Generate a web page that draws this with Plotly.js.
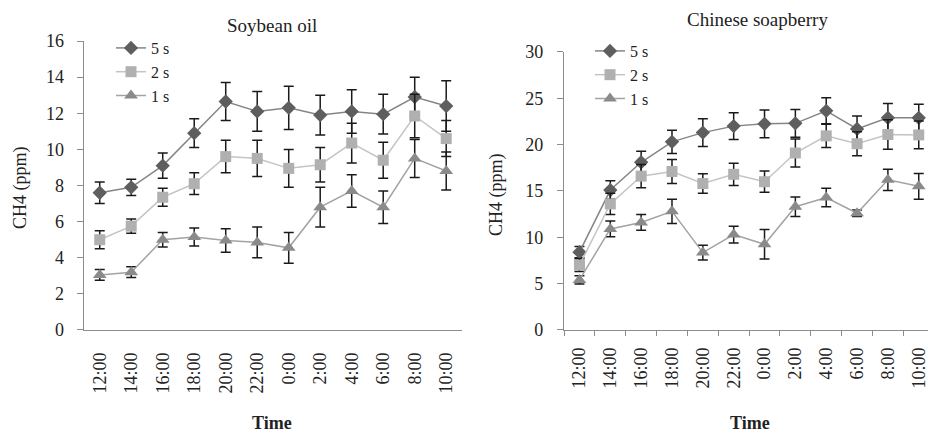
<!DOCTYPE html>
<html>
<head>
<meta charset="utf-8">
<script src="https://cdn.plot.ly/plotly-3.0.1.min.js"></script>
<style>html,body{margin:0;padding:0;background:#fff;}#chart{width:928px;height:435px;}</style>
</head>
<body>
<div id="chart"></div>
<script>
var times = ['12:00','14:00','16:00','18:00','20:00','22:00','0:00','2:00','4:00','6:00','8:00','10:00'];
var seriesNames = ['5 s', '2 s', '1 s'];

// Soybean oil (CH4, ppm)
var soy5 = [7.6, 7.9, 9.1, 10.9, 12.65, 12.1, 12.3, 11.9, 12.1, 11.95, 12.9, 12.4];
var soy5Err = [0.6, 0.45, 0.7, 0.8, 1.05, 1.1, 1.2, 1.1, 1.2, 1.1, 1.1, 1.4];
var soy2 = [5.0, 5.75, 7.35, 8.1, 9.6, 9.5, 8.95, 9.15, 10.35, 9.4, 11.85, 10.6];
var soy2Err = [0.5, 0.4, 0.5, 0.6, 0.9, 1.0, 1.05, 0.95, 1.1, 1.0, 1.2, 1.0];
var soy1 = [3.05, 3.2, 5.0, 5.15, 4.95, 4.85, 4.55, 6.8, 7.7, 6.8, 9.5, 8.8];
var soy1Err = [0.3, 0.3, 0.4, 0.5, 0.65, 0.85, 0.85, 1.1, 0.9, 0.9, 1.05, 1.05];

// Chinese soapberry (CH4, ppm)
var soap5 = [8.4, 15.1, 18.1, 20.3, 21.3, 22.0, 22.25, 22.3, 23.65, 21.7, 22.9, 22.9];
var soap5Err = [0.6, 1.0, 1.2, 1.25, 1.5, 1.45, 1.5, 1.5, 1.4, 1.4, 1.55, 1.45];
var soap2 = [7.0, 13.6, 16.6, 17.1, 15.8, 16.8, 16.0, 19.1, 20.95, 20.1, 21.1, 21.05];
var soap2Err = [0.7, 1.15, 1.25, 1.3, 1.05, 1.2, 1.15, 1.5, 1.25, 1.3, 1.6, 1.5];
var soap1 = [5.4, 10.9, 11.6, 12.8, 8.35, 10.3, 9.25, 13.3, 14.3, 12.6, 16.2, 15.5];
var soap1Err = [0.45, 0.85, 0.85, 1.3, 0.8, 0.9, 1.6, 1.05, 1.0, 0.35, 1.15, 1.4];

var FONT = "'Liberation Serif', 'Times New Roman', serif";
var styles = [
  {line: '#858585', marker: '#5e5e5e', symbol: 'diamond', size: 11},
  {line: '#c4c4c4', marker: '#b0b0b0', symbol: 'square', size: 11},
  {line: '#a3a3a3', marker: '#8a8a8a', symbol: 'triangle-up', size: 12}
];

function mk(y, err, i, xa, ya, leg) {
  var s = styles[i];
  return {
    x: times, y: y, name: seriesNames[i], xaxis: xa, yaxis: ya, legend: leg,
    type: 'scatter', mode: 'lines+markers', cliponaxis: false,
    line: {color: s.line, width: 1.5},
    marker: {color: s.marker, symbol: s.symbol, size: s.size},
    error_y: {type: 'data', array: err, visible: true, color: '#1a1a1a', thickness: 1.5, width: 5}
  };
}

var data = [
  mk(soy5, soy5Err, 0, 'x', 'y', 'legend'),
  mk(soy2, soy2Err, 1, 'x', 'y', 'legend'),
  mk(soy1, soy1Err, 2, 'x', 'y', 'legend'),
  mk(soap5, soap5Err, 0, 'x2', 'y2', 'legend2'),
  mk(soap2, soap2Err, 1, 'x2', 'y2', 'legend2'),
  mk(soap1, soap1Err, 2, 'x2', 'y2', 'legend2')
];

var axCol = '#8c8c8c';
var tickFont = {family: FONT, size: 18, color: '#222'};

var layout = {
  width: 928, height: 435,
  margin: {l: 0, r: 0, t: 0, b: 0},
  paper_bgcolor: '#fff', plot_bgcolor: '#fff',
  font: {family: FONT, size: 18, color: '#222'},
  showlegend: true,
  xaxis: {
    domain: [0.0905, 0.4978], anchor: 'y', type: 'category', range: [-0.5, 11.5],
    showline: true, linecolor: axCol, linewidth: 1.3, ticks: '', showgrid: false, zeroline: false,
    tickangle: -90, tickfont: tickFont, ticklabelstandoff: 14
  },
  yaxis: {
    domain: [0.2414, 0.9057], anchor: 'x', range: [0, 16], dtick: 2,
    showline: true, linecolor: axCol, linewidth: 1.3, ticks: 'outside', ticklen: 6, tickcolor: axCol,
    showgrid: false, zeroline: false, tickfont: tickFont, ticklabelstandoff: 9
  },
  xaxis2: {
    domain: [0.6078, 1], anchor: 'y2', type: 'category', range: [-0.5, 11.3],
    showline: true, linecolor: axCol, linewidth: 1.3, ticks: 'outside', tickson: 'boundaries',
    ticklen: 5, tickcolor: axCol, showgrid: false, zeroline: false,
    tickangle: -90, tickfont: tickFont, ticklabelstandoff: 9
  },
  yaxis2: {
    domain: [0.2414, 0.8805], anchor: 'x2', range: [0, 30], dtick: 5,
    showline: true, linecolor: axCol, linewidth: 1.3, ticks: 'outside', ticklen: 6, tickcolor: axCol,
    showgrid: false, zeroline: false, tickfont: tickFont, ticklabelstandoff: 10
  },
  legend: {
    x: 111/928, y: 1 - 31/435, xanchor: 'left', yanchor: 'top',
    bgcolor: 'rgba(0,0,0,0)', font: {family: FONT, size: 16, color: '#222'},
    tracegroupgap: 0, itemwidth: 30
  },
  legend2: {
    x: 590/928, y: 1 - 34/435, xanchor: 'left', yanchor: 'top',
    bgcolor: 'rgba(0,0,0,0)', font: {family: FONT, size: 16, color: '#222'},
    tracegroupgap: 0, itemwidth: 30
  },
  annotations: [
    {text: 'Soybean oil', x: 272/928, y: 1 - 25/435, xref: 'paper', yref: 'paper', showarrow: false,
     xanchor: 'center', yanchor: 'middle', font: {family: FONT, size: 19, color: '#222'}},
    {text: 'Chinese soapberry', x: 757/928, y: 1 - 20/435, xref: 'paper', yref: 'paper', showarrow: false,
     xanchor: 'center', yanchor: 'middle', font: {family: FONT, size: 19, color: '#222'}},
    {text: 'CH4 (ppm)', x: 20/928, y: 1 - 188/435, xref: 'paper', yref: 'paper', showarrow: false,
     textangle: -90, xanchor: 'center', yanchor: 'middle', font: {family: FONT, size: 18, color: '#222'}},
    {text: 'CH4 (ppm)', x: 496/928, y: 1 - 194/435, xref: 'paper', yref: 'paper', showarrow: false,
     textangle: -90, xanchor: 'center', yanchor: 'middle', font: {family: FONT, size: 18, color: '#222'}},
    {text: '<b>Time</b>', x: 272/928, y: 1 - 423/435, xref: 'paper', yref: 'paper', showarrow: false,
     xanchor: 'center', yanchor: 'middle', font: {family: FONT, size: 18, color: '#222'}},
    {text: '<b>Time</b>', x: 750/928, y: 1 - 423/435, xref: 'paper', yref: 'paper', showarrow: false,
     xanchor: 'center', yanchor: 'middle', font: {family: FONT, size: 18, color: '#222'}}
  ]
};

Plotly.newPlot('chart', data, layout, {displayModeBar: false, staticPlot: true});
</script>
</body>
</html>
